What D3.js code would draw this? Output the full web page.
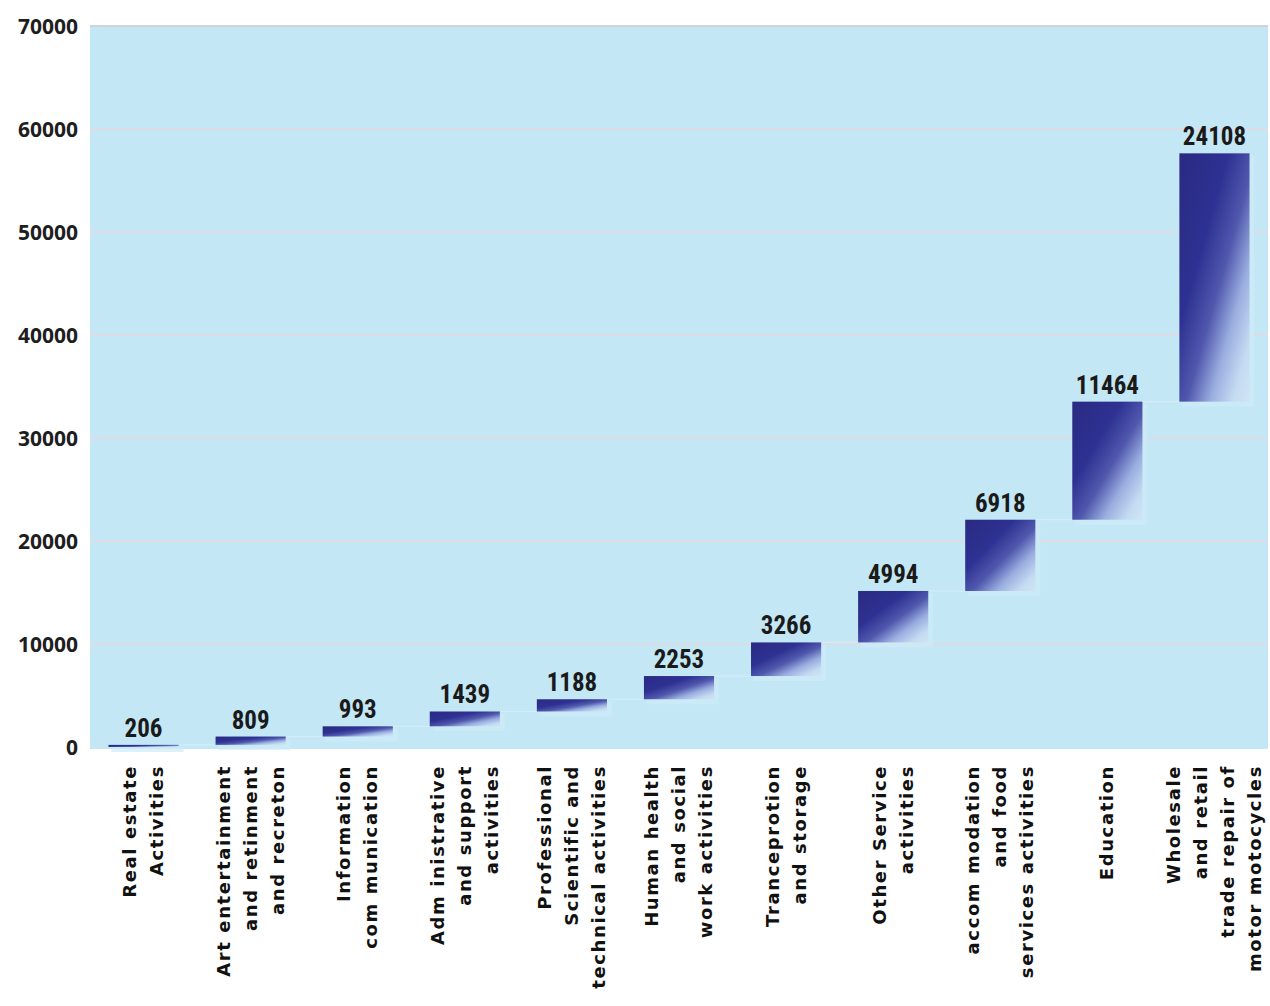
<!DOCTYPE html>
<html>
<head>
<meta charset="utf-8">
<script src="https://cdn.jsdelivr.net/npm/d3@7"></script>
<style>
  html, body { margin: 0; padding: 0; background: #ffffff; }
  svg { display: block; }
</style>
</head>
<body>
<svg id="chart" width="1270" height="1006"></svg>
<script>
// ---- data ----
const categories = [
  ["Real estate", "Activities"],
  ["Art entertainment", "and retinment", "and recreton"],
  ["Information", "com munication"],
  ["Adm inistrative", "and support", "activities"],
  ["Professional", "Scientific and", "technical activities"],
  ["Human health", "and social", "work activities"],
  ["Tranceprotion", "and storage"],
  ["Other Service", "activities"],
  ["accom modation", "and food", "services activities"],
  ["Education"],
  ["Wholesale", "and retail", "trade repair of", "motor motocycles"]
];
const values = [206, 809, 993, 1439, 1188, 2253, 3266, 4994, 6918, 11464, 24108];
const yTicks = [0, 10000, 20000, 30000, 40000, 50000, 60000, 70000];

(function () {
// waterfall: start/end of each step
let acc = 0;
const steps = values.map((v, i) => {
  const s = { i, start: acc, end: acc + v, v };
  acc += v;
  return s;
});

const svg = d3.select("#chart");
const pLeft = 90, pRight = 1268, pTop = 26, pBottom = 747;

const x = d3.scaleBand().domain(d3.range(values.length)).range([pLeft, pRight]).padding(0);
const y = d3.scaleLinear().domain([0, 70000]).range([pBottom, pTop]);
const barW = x.bandwidth() * 0.655;

// gradient
const defs = svg.append("defs");
const g = defs.append("linearGradient").attr("id", "barGrad")
  .attr("x1", 0).attr("y1", 0).attr("x2", 1).attr("y2", 1);
[[0, "#2a2a82"], [0.35, "#2e3192"], [0.55, "#5058ad"], [0.72, "#9aaee0"], [0.88, "#c5dbf2"], [1, "#d0e4f5"]]
  .forEach(([o, c]) => g.append("stop").attr("offset", o).attr("stop-color", c));

// plot background
svg.append("rect").attr("x", pLeft).attr("y", pTop)
  .attr("width", pRight - pLeft).attr("height", pBottom + 2 - pTop)
  .attr("fill", "#c3e7f5");

// gridlines
svg.append("g").selectAll("line").data(yTicks.filter(t => t > 0)).join("line")
  .attr("x1", pLeft).attr("x2", pRight)
  .attr("y1", d => y(d)).attr("y2", d => y(d))
  .attr("stroke", d => d === 70000 ? "#cfd3da" : "#e6d9df")
  .attr("stroke-width", d => d === 70000 ? 2 : 1.5);

// y axis labels
const yAxis = d3.axisLeft(y).tickValues(yTicks).tickSize(0).tickPadding(0).tickFormat(d3.format("d"));
const ya = svg.append("g").attr("transform", `translate(${pLeft - 12},0)`).call(yAxis);
ya.select(".domain").remove();
ya.selectAll("text")
  .attr("font-family", "'Open Sans', sans-serif")
  .attr("font-weight", 700)
  .attr("font-size", 21)
  .attr("fill", "#1e1e1e")
  .attr("dy", "0.36em");

// connector lines & shadows
const cx = i => x(i) + x.bandwidth() / 2;
svg.append("g").selectAll("line").data(steps.slice(0, -1)).join("line")
  .attr("x1", d => cx(d.i) + barW / 2).attr("x2", d => cx(d.i + 1) - barW / 2)
  .attr("y1", d => y(d.end)).attr("y2", d => y(d.end))
  .attr("stroke", "#d3ecf8").attr("stroke-width", 1.2);

svg.append("g").selectAll("rect").data(steps).join("rect")
  .attr("x", d => cx(d.i) - barW / 2 + 3)
  .attr("y", d => y(d.end) + 2)
  .attr("width", barW + 2)
  .attr("height", d => Math.max(2, y(d.start) - y(d.end)) + 3)
  .attr("fill", "#cdebf8").attr("opacity", 0.7);

// bars
svg.append("g").selectAll("rect").data(steps).join("rect")
  .attr("x", d => cx(d.i) - barW / 2)
  .attr("y", d => y(d.end))
  .attr("width", barW)
  .attr("height", d => Math.max(2, y(d.start) - y(d.end)))
  .attr("fill", "url(#barGrad)");

// value labels
svg.append("g").selectAll("text").data(steps).join("text")
  .attr("x", d => cx(d.i))
  .attr("y", d => y(d.end) - 8)
  .attr("text-anchor", "middle")
  .attr("font-family", "'Liberation Sans Narrow', 'Roboto Condensed', sans-serif")
  .attr("font-weight", 700)
  .attr("font-size", 25)
  .attr("fill", "#1a1a1a")
  .text(d => d.v);

// x labels (rotated)
const lineH = 27;
const xl = svg.append("g").selectAll("g").data(categories).join("g")
  .attr("transform", (d, i) => `translate(${cx(i)},765) rotate(-90)`);
xl.each(function(lines) {
  const n = lines.length;
  const t = d3.select(this).append("text")
    .attr("text-anchor", "end")
    .attr("font-family", "'DejaVu Sans', sans-serif")
    .attr("font-weight", 700)
    .attr("font-size", 18)
    .attr("letter-spacing", 1.6)
    .attr("fill", "#111");
  lines.forEach((ln, k) => {
    t.append("tspan").attr("x", 0)
      .attr("y", (k - (n - 1) / 2) * lineH + 6)
      .text(ln);
  });
});
})();
</script>
</body>
</html>
